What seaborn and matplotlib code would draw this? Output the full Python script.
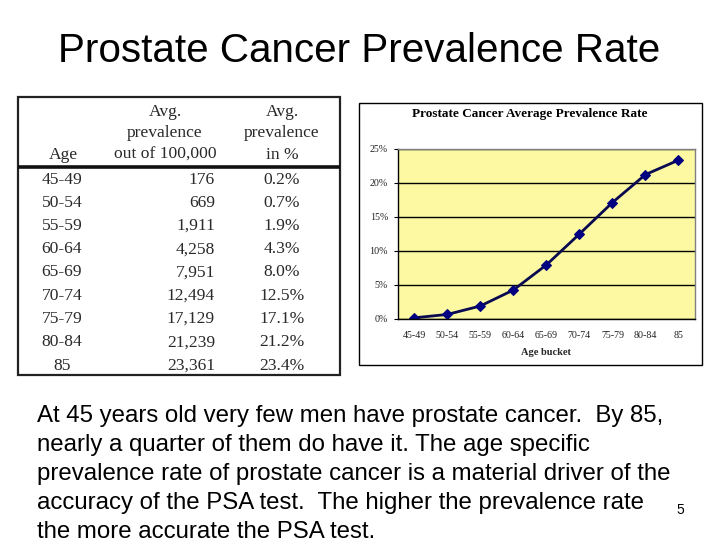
import matplotlib
matplotlib.use("Agg")
import matplotlib.pyplot as plt
import matplotlib.patches as mpatches
from matplotlib.ticker import PercentFormatter, FixedLocator
import seaborn as sns
import pandas as pd

# ---- data ----
ages = ["45-49", "50-54", "55-59", "60-64", "65-69", "70-74", "75-79", "80-84", "85"]
per_100k = [176, 669, 1911, 4258, 7951, 12494, 17129, 21239, 23361]
per_100k_labels = ["176", "669", "1,911", "4,258", "7,951", "12,494", "17,129", "21,239", "23,361"]
pct_labels = ["0.2%", "0.7%", "1.9%", "4.3%", "8.0%", "12.5%", "17.1%", "21.2%", "23.4%"]
y_ticks = [0.0, 0.05, 0.10, 0.15, 0.20, 0.25]

slide_title = "Prostate Cancer Prevalence Rate"
chart_title = "Prostate Cancer Average Prevalence Rate"
x_label = "Age bucket"
body_lines = [
    "At 45 years old very few men have prostate cancer.  By 85,",
    "nearly a quarter of them do have it. The age specific",
    "prevalence rate of prostate cancer is a material driver of the",
    "accuracy of the PSA test.  The higher the prevalence rate",
    "the more accurate the PSA test.",
]
page_no = "5"

df = pd.DataFrame({"age": ages, "rate": [v / 100000 for v in per_100k]})

sns.set_theme(style="white")
plt.rcParams["font.family"] = ["Liberation Sans", "DejaVu Sans"]

W, H = 728, 546
fig = plt.figure(figsize=(W / 100, H / 100), dpi=100)
fig.patch.set_facecolor("white")

# background overlay axes in pixel coordinates
bg = fig.add_axes([0, 0, 1, 1], zorder=0)
bg.set_xlim(0, W)
bg.set_ylim(H, 0)
bg.axis("off")

# slide title
bg.text(58, 61.5, slide_title, fontsize=29.1, ha="left", va="baseline",
        family="Liberation Sans", color="black")

# table
serif = "Liberation Serif"
tcol = "#2a2a2a"
bg.add_patch(mpatches.Rectangle((18, 97), 322, 278, fill=False, lw=1.6, ec="#222222"))
bg.plot([18, 340], [167, 167], color="#111111", lw=2.6, solid_capstyle="butt")
fs = 12.6
hdr_y = [112, 133, 155]
bg.text(63, hdr_y[2], "Age", fontsize=fs, family=serif, ha="center", va="center", color=tcol)
for y, s in zip(hdr_y, ["Avg.", "prevalence", "out of 100,000"]):
    bg.text(165, y, s, fontsize=fs, family=serif, ha="center", va="center", color=tcol)
for y, s in zip(hdr_y, ["Avg.", "prevalence", "in %"]):
    bg.text(282, y, s, fontsize=fs, family=serif, ha="center", va="center", color=tcol)
for i, (a, n, p) in enumerate(zip(ages, per_100k_labels, pct_labels)):
    y = 179.5 + i * 23.25
    bg.text(62, y, a, fontsize=fs, family=serif, ha="center", va="center", color=tcol)
    bg.text(215, y, n, fontsize=fs, family=serif, ha="right", va="center", color=tcol)
    bg.text(282, y, p, fontsize=fs, family=serif, ha="center", va="center", color=tcol)

# chart outer box
bg.add_patch(mpatches.Rectangle((359, 102.7), 342.7, 262.3, fill=False, lw=1.0, ec="black"))
bg.text(530, 113.5, chart_title, fontsize=9.5, family=serif, weight="bold",
        ha="center", va="center", color="black")

# body text
for i, line in enumerate(body_lines):
    bg.text(37, 421.7 + i * 29.2, line, fontsize=17.3, family="Liberation Sans",
            ha="left", va="baseline", color="black")
bg.text(680, 510, page_no, fontsize=10, family="Liberation Sans", ha="center",
        va="center", color="black")

# chart axes
left, right, top, bottom = 397.7, 695, 149, 319
ax = fig.add_axes([left / W, 1 - bottom / H, (right - left) / W, (bottom - top) / H], zorder=2)
ax.set_facecolor("#FCF9A2")
sns.lineplot(data=df, x="age", y="rate", ax=ax, color="#0A0A50", lw=2.0,
             marker="D", markersize=5, markerfacecolor="#000080",
             markeredgecolor="#000080", sort=False)
ax.set_xlim(-0.5, len(ages) - 0.5)
ax.set_ylim(0, 0.25)
ax.set_yticks(y_ticks)
ax.yaxis.set_major_formatter(PercentFormatter(xmax=1, decimals=0))
ax.grid(axis="y", color="black", lw=1.0)
ax.set_axisbelow(True)
for s in ax.spines.values():
    s.set_color("#808080")
    s.set_linewidth(1.0)
ax.spines["left"].set_color("black")
ax.spines["bottom"].set_color("black")
ax.xaxis.set_minor_locator(FixedLocator([i - 0.5 for i in range(len(ages) + 1)]))
ax.tick_params(axis="x", which="major", length=0, pad=8.5, labelsize=7.2)
ax.tick_params(axis="x", which="minor", length=3, width=0.8, direction="out", color="black")
ax.tick_params(axis="y", which="major", length=3, width=0.8, direction="out", color="black",
               pad=4, labelsize=7.2, left=True)
for lab in ax.get_xticklabels() + ax.get_yticklabels():
    lab.set_family(serif)
    lab.set_color("#222222")
ax.set_xlabel(x_label, fontsize=7.5, family=serif, weight="bold", labelpad=6)
ax.set_ylabel("")

fig.savefig("out.png", dpi=100)
